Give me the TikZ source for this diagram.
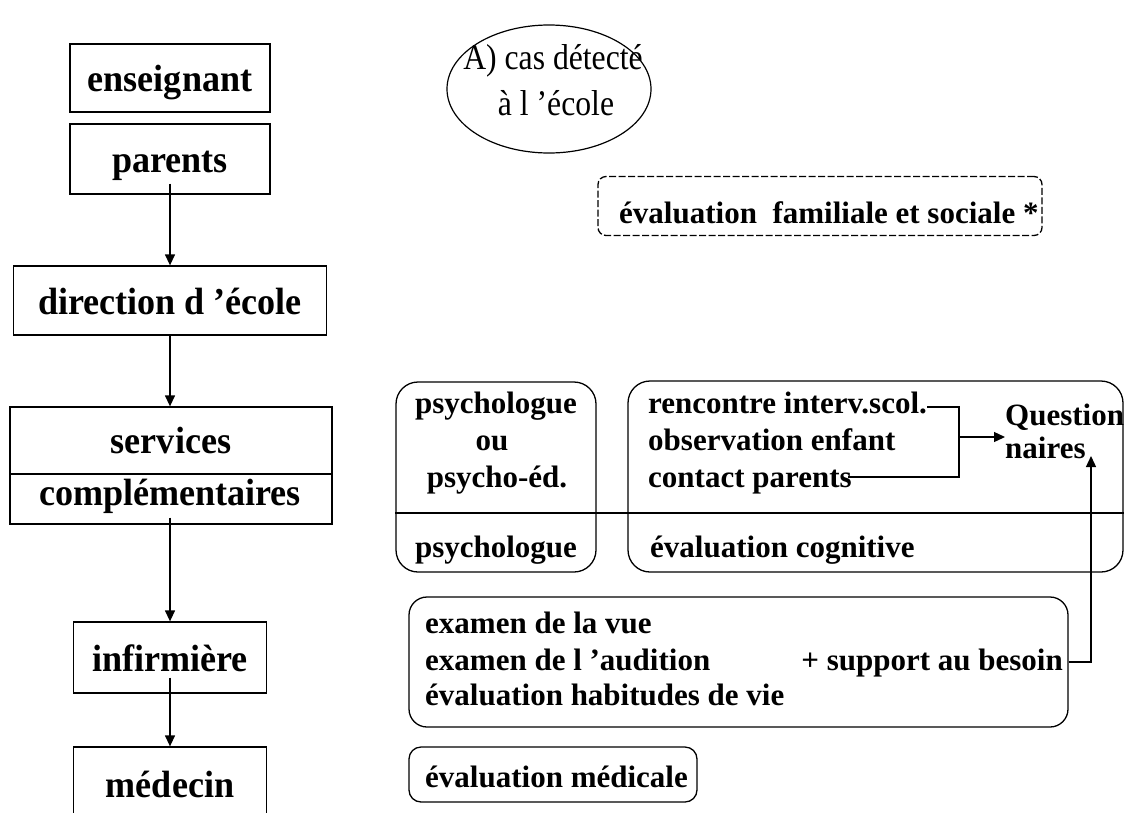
\documentclass[tikz,border=0pt]{standalone}
\usepackage{fontspec}
\setmainfont{Liberation Serif}
\usetikzlibrary{arrows.meta,shapes.geometric}
\newcommand{\lsq}[1]{\scalebox{0.95}[1]{#1}}
\newcommand{\esq}[1]{\scalebox{0.88}[1]{#1}}
\begin{document}
\begin{tikzpicture}[x=1pt,y=-1pt,
  lbox/.style={draw, line width=1.3pt, inner sep=0pt,
    font=\fontsize{38}{45}\selectfont\bfseries, text height=31pt, text depth=4pt},
  ltext/.style={inner sep=0pt, font=\fontsize{38}{45}\selectfont\bfseries},
  rtext/.style={inner sep=0pt, font=\fontsize{31}{37}\selectfont\bfseries},
  rbox/.style={draw, line width=1.3pt, inner sep=0pt, rounded corners=#1},
  dbox/.style={draw, line width=1.3pt, inner sep=0pt, rounded corners=8pt,
    dash pattern=on 7pt off 2.5pt},
  ell/.style={draw, ellipse, line width=1.2pt, inner sep=0pt},
  etext/.style={inner sep=0pt, font=\fontsize{36}{42}\selectfont},
  arr/.style={line width=1.3pt, -{Triangle[length=11pt,width=10pt]}},
  conn/.style={line width=1.3pt}
]
\fill[white] (0,0) rectangle (1124,812);
\useasboundingbox (0,0) rectangle (1124,812);

% left column
\node[lbox, minimum width=200pt, minimum height=68pt] (ens) at (170,78) {\lsq{enseignant}};
\node[lbox, minimum width=200pt, minimum height=70pt] (par) at (170,159) {\lsq{parents}};
\node[lbox, minimum width=313pt, minimum height=69pt] (dir) at (170,300.5) {\lsq{direction d ’école}};
\node[draw, line width=1.3pt, inner sep=0pt, minimum width=322pt, minimum height=117pt] (serv) at (171,465.5) {};
\coordinate (sdiv) at (0,474);
\draw[conn] (serv.west |- sdiv) -- (serv.east |- sdiv);
\node[ltext, anchor=base] (s1) at (171,453) {\lsq{services}};
\node[ltext, anchor=base] (s2) at (170,505) {\lsq{complémentaires}};
\node[lbox, minimum width=193pt, minimum height=71pt] (inf) at (170,657.5) {\lsq{infirmière}};
\node[lbox, minimum width=193pt, minimum height=74pt] (med) at (170,784) {\lsq{médecin}};

\draw[arr] ([yshift=11pt]par.south) -- (dir.north);
\draw[arr] (dir.south) -- (serv.north -| dir.south);
\draw[arr] ([yshift=7pt]serv.south -| dir.south) -- (inf.north);
\draw[arr] ([yshift=16pt]inf.south) -- (med.north);

% ellipse
\node[ell, minimum width=204pt, minimum height=128pt] (ell) at (549,89) {};
\node[etext, anchor=base] (e1) at (553,69) {\esq{A) cas détecté}};
\node[etext, anchor=base] (e2) at (556,115) {\esq{à l ’école}};

% dashed box
\node[dbox, minimum width=444pt, minimum height=59pt] (fam) at (820,206) {};
\node[rtext, anchor=base west] (famt) at (619,223) {évaluation\ \ familiale et sociale *};

% psychologue boxes
\node[rbox=22pt, minimum width=200pt, minimum height=190pt] (psy) at (496,477) {};
\node[rbox=22pt, minimum width=495pt, minimum height=191pt] (box2) at (875.5,476.5) {};
\coordinate (hl) at (0,513);
\draw[conn] (psy.west |- hl) -- (box2.east |- hl);

\node[rtext, anchor=base] (p1) at (496,413) {psychologue};
\node[rtext, anchor=base] (p2) at (492,450) {ou};
\node[rtext, anchor=base] (p3) at (497,487) {psycho-éd.};
\node[rtext, anchor=base] (p4) at (496,557) {psychologue};

\node[rtext, anchor=base west] (r1) at (648,413) {rencontre interv.scol.};
\node[rtext, anchor=base west] (r2) at (648,450) {observation enfant};
\node[rtext, anchor=base west] (r3) at (648,487) {contact parents};
\node[rtext, anchor=base west] (r4) at (650,557) {évaluation cognitive};

\node[rtext, anchor=base west] (q1) at (1005,425) {Question};
\node[rtext, anchor=base west] (q2) at (1005,458) {naires};

\coordinate (bk) at (959,437);
\draw[conn] ([yshift=6pt]r1.base east) -| (bk) |- ([xshift=-4pt,yshift=10pt]r3.base east);
\draw[arr] (bk) -- (bk -| q2.west);

% exam box
\node[rbox=18pt, minimum width=659pt, minimum height=130pt] (exam) at (738.5,662) {};
\node[rtext, anchor=base west] (x1) at (425,633) {examen de la vue};
\node[rtext, anchor=base west] (x2) at (425,670) {examen de l ’audition};
\node[rtext, anchor=base west] (x3) at (425,705) {évaluation habitudes de vie};
\node[rtext, anchor=base east] (sup) at (1063,670) {+ support au besoin};

\coordinate (qt) at (1091,456);
\draw[arr] (exam.east) -| (qt);

% medical
\node[rbox=12pt, minimum width=288pt, minimum height=55pt] (medi) at (553,774.5) {};
\node[rtext, anchor=base west] (mt) at (425,787) {évaluation médicale};
\end{tikzpicture}
\end{document}
